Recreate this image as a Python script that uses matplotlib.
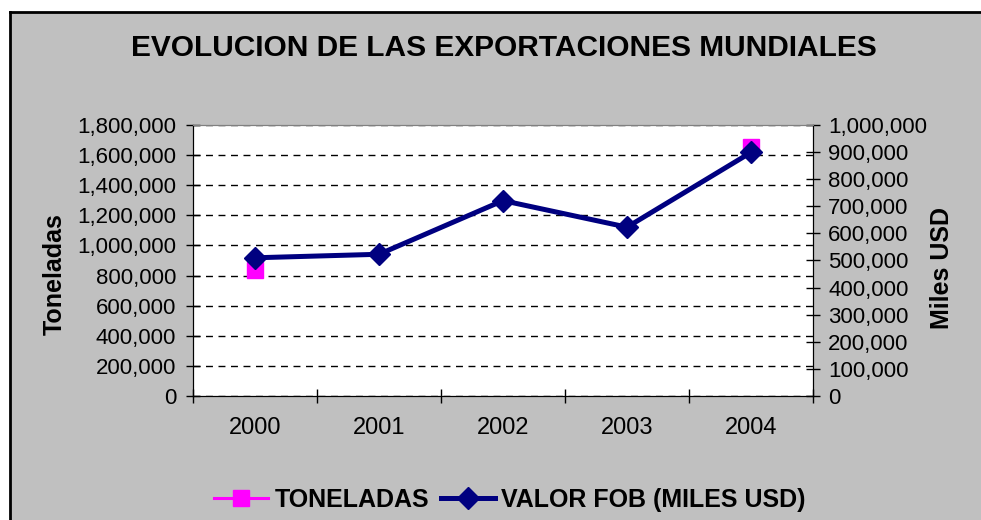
import numpy as np
import matplotlib
matplotlib.use('Agg')
import matplotlib.pyplot as plt
from matplotlib.ticker import FuncFormatter, MultipleLocator

plt.rcParams['font.family'] = ['Liberation Sans', 'DejaVu Sans']

years = ['2000', '2001', '2002', '2003', '2004']
# only the 2000 and 2004 tonnage markers are visible in the chart
toneladas = [840000, np.nan, np.nan, np.nan, 1652000]
valor_fob = [510000, 523000, 721000, 623000, 899000]

grey = '#C0C0C0'
pink = '#FF00FF'
navy = '#000080'

fig = plt.figure(figsize=(9.81, 5.2), dpi=100)
fig.patch.set_facecolor('white')

# grey chart area with black left/top border
bg = plt.Rectangle((10/981, 0), 1, 1 - 12/520, transform=fig.transFigure,
                   facecolor=grey, edgecolor='none', zorder=-10)
fig.patches.append(bg)
fig.add_artist(plt.Line2D([10/981, 10/981], [0, 1 - 12/520], color='black', lw=2,
                          transform=fig.transFigure))
fig.add_artist(plt.Line2D([10/981, 1], [1 - 12/520, 1 - 12/520], color='black', lw=2,
                          transform=fig.transFigure))

ax = fig.add_axes([193/981, 124/520, 620/981, 271/520])
ax.set_facecolor('white')
ax2 = ax.twinx()

x = np.arange(len(years))
l1, = ax.plot(x, toneladas, color=pink, lw=2.2, marker='s', markersize=12,
              label='TONELADAS', zorder=3)
l2, = ax2.plot(x, valor_fob, color=navy, lw=3.6, marker='D', markersize=11,
               label='VALOR FOB (MILES USD)', zorder=4)

ax.set_xlim(-0.5, len(years) - 0.5)
ax.set_ylim(0, 1800000)
ax2.set_ylim(0, 1000000)
ax.yaxis.set_major_locator(MultipleLocator(200000))
ax2.yaxis.set_major_locator(MultipleLocator(100000))
fmt = FuncFormatter(lambda v, p: f'{int(v):,}')
ax.yaxis.set_major_formatter(fmt)
ax2.yaxis.set_major_formatter(fmt)

ax.set_xticks(x)
ax.set_xticklabels(years)
ax.set_xticks(np.arange(-0.5, len(years)), minor=True)
ax.tick_params(axis='x', which='major', length=0, pad=15, labelsize=17)
ax.tick_params(axis='x', which='minor', direction='inout', length=10, width=1)
ax.tick_params(axis='y', direction='inout', length=10, width=1, pad=7, labelsize=16)
ax2.tick_params(axis='y', direction='inout', length=10, width=1, pad=6, labelsize=16)

ax.yaxis.grid(True, linestyle=(0, (5, 4)), color='black', lw=1)
ax.set_axisbelow(True)

for a in (ax, ax2):
    a.spines['top'].set_color('#808080')
    a.spines['left'].set_color('black')
    a.spines['right'].set_color('black')
    a.spines['bottom'].set_color('black')

ax.set_ylabel('Toneladas', fontsize=18, fontweight='bold')
ax.yaxis.set_label_coords(-0.203, 0.45)
ax2.set_ylabel('Miles USD', fontsize=18, fontweight='bold')
ax2.yaxis.set_label_coords(1.189, 0.472)

fig.text(0.514, 1 - 48/520, 'EVOLUCION DE LAS EXPORTACIONES MUNDIALES',
         ha='center', va='center', fontsize=21.5, fontweight='bold')

fig.legend(handles=[l1, l2], loc='center', bbox_to_anchor=(0.52, 1 - 500/520),
           ncol=2, frameon=False, handlelength=2.16, handletextpad=0.24,
           columnspacing=0.5, prop={'size': 18, 'weight': 'bold'})

fig.savefig('out.png', dpi=100, facecolor=fig.get_facecolor())
